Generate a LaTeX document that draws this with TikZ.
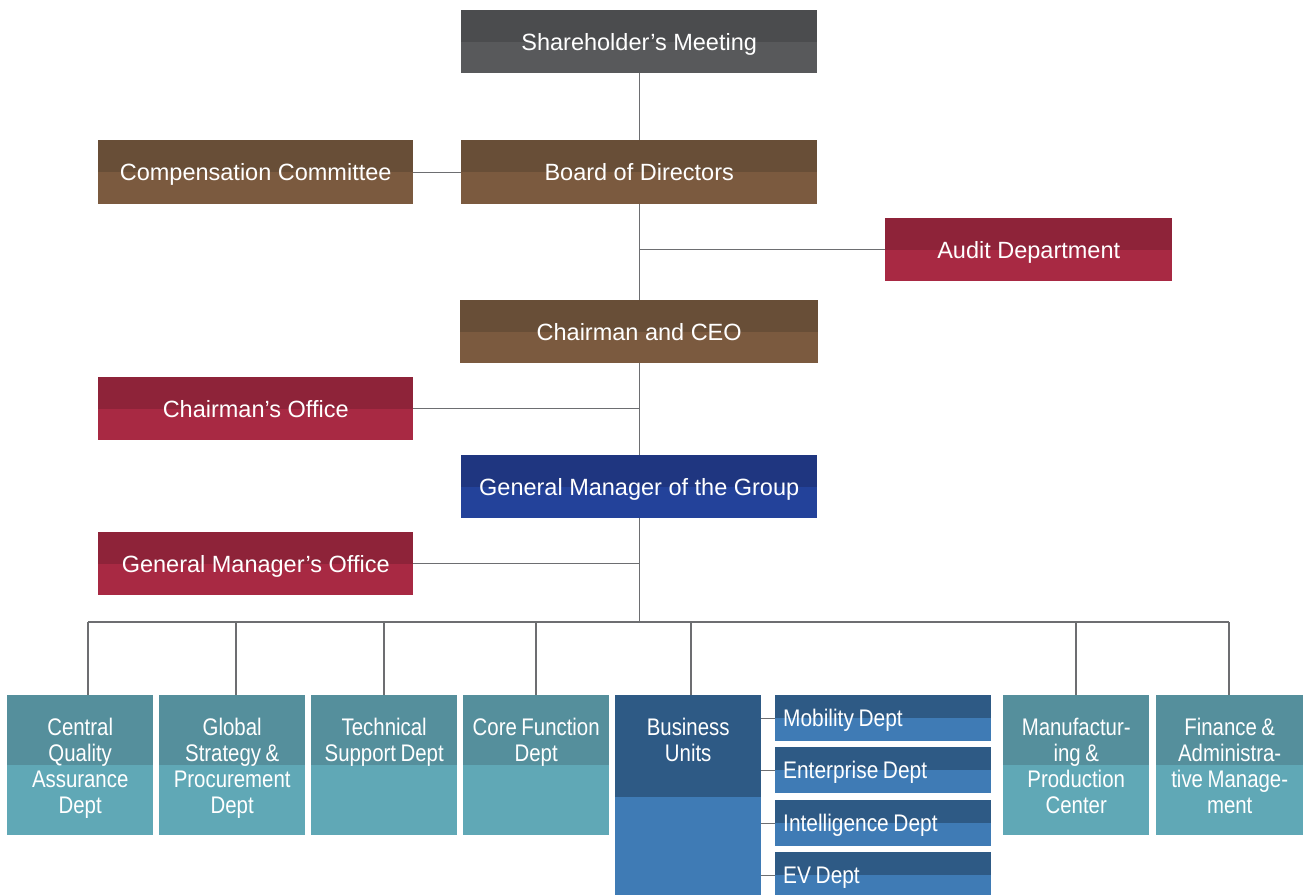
\documentclass[tikz,border=0pt]{standalone}
\usepackage{fontspec}
\setmainfont{Liberation Sans}
\newfontfamily\condfont[FakeStretch=0.85,WordSpace=0.8]{Liberation Sans}
\newfontfamily\subcondfont[FakeStretch=0.87,WordSpace=0.8]{Liberation Sans}
\definecolor{grayT}{HTML}{4B4C4E}\definecolor{grayB}{HTML}{58595B}
\definecolor{brownT}{HTML}{684E37}\definecolor{brownB}{HTML}{7B5A3F}
\definecolor{redT}{HTML}{8E2339}\definecolor{redB}{HTML}{A82943}
\definecolor{navyT}{HTML}{1F3680}\definecolor{navyB}{HTML}{23429A}
\definecolor{tealT}{HTML}{558F9C}\definecolor{tealB}{HTML}{60A8B6}
\definecolor{buT}{HTML}{2E5A85}\definecolor{buB}{HTML}{3F7BB5}
\definecolor{linec}{HTML}{6D6E71}
\begin{document}
\begin{tikzpicture}[x=1pt,y=-1pt,
  twotone/.style 2 args={fill=#2, path picture={\fill[#1] (path picture bounding box.north west) rectangle (path picture bounding box.east);}},
  box/.style={anchor=north west, inner sep=0pt, text=white, draw=none},
  topbox/.style={box, font=\fontsize{23.5}{26}\selectfont, text height=17pt, text depth=0pt},
  lowbox/.style={box, minimum width=146pt, minimum height=140pt},
  lowtext/.style={anchor=north, inner sep=0pt, text=white, align=center, font=\condfont\fontsize{24}{26}\selectfont},
  subbox/.style={box, twotone={buT}{buB}, minimum width=216pt, minimum height=46pt},
  subtext/.style={anchor=west, inner sep=0pt, text=white, font=\subcondfont\fontsize{24}{26}\selectfont, text height=17pt, text depth=0pt},
  conn/.style={draw=linec, line width=1.2pt}
]
\useasboundingbox (0,0) rectangle (1303,894);
\fill[white] (0,0) rectangle (1303,894);

% top part
\node[topbox, twotone={grayT}{grayB}, minimum width=356pt, minimum height=63pt] (sh) at (461,10) {Shareholder’s Meeting};
\node[topbox, twotone={brownT}{brownB}, minimum width=356pt, minimum height=64pt] (bod) at (461,140) {Board of Directors};
\node[topbox, twotone={brownT}{brownB}, minimum width=315pt, minimum height=64pt] (comp) at (98,140) {Compensation Committee};
\node[topbox, twotone={redT}{redB}, minimum width=287pt, minimum height=63pt] (audit) at (885,218) {Audit Department};
\node[topbox, twotone={brownT}{brownB}, minimum width=358pt, minimum height=63pt] (ceo) at (460,300) {Chairman and CEO};
\node[topbox, twotone={redT}{redB}, minimum width=315pt, minimum height=63pt] (co) at (98,377) {Chairman’s Office};
\node[topbox, twotone={navyT}{navyB}, minimum width=356pt, minimum height=63pt] (gm) at (461,455) {General Manager of the Group};
\node[topbox, twotone={redT}{redB}, minimum width=315pt, minimum height=63pt] (gmo) at (98,532) {General Manager’s Office};

% bottom row
\node[lowbox, twotone={tealT}{tealB}] (cqa) at (7,695) {};
\node[lowbox, twotone={tealT}{tealB}] (gsp) at (159,695) {};
\node[lowbox, twotone={tealT}{tealB}] (tsd) at (311,695) {};
\node[lowbox, twotone={tealT}{tealB}] (cfd) at (463,695) {};
\node[lowbox, twotone={buT}{buB}, minimum height=204pt] (bu) at (615,695) {};
\node[lowbox, twotone={tealT}{tealB}] (mfg) at (1003,695) {};
\node[lowbox, twotone={tealT}{tealB}, minimum width=147pt] (fin) at (1156,695) {};

\node[lowtext] (cqa-t) at ([yshift=-22pt]cqa.north) {Central\strut\\Quality\strut\\Assurance\strut\\Dept\strut};
\node[lowtext] (gsp-t) at ([yshift=-22pt]gsp.north) {Global\strut\\Strategy \&\strut\\Procurement\strut\\Dept\strut};
\node[lowtext] (tsd-t) at ([yshift=-22pt]tsd.north) {Technical\strut\\Support Dept\strut};
\node[lowtext] (cfd-t) at ([yshift=-22pt]cfd.north) {Core Function\strut\\Dept\strut};
\node[lowtext] (bu-t) at ([yshift=-22pt]bu.north) {Business\strut\\Units\strut};
\node[lowtext] (mfg-t) at ([yshift=-22pt]mfg.north) {Manufactur-\strut\\ing \&\strut\\Production\strut\\Center\strut};
\node[lowtext] (fin-t) at ([yshift=-22pt]fin.north) {Finance \&\strut\\Administra-\strut\\tive Manage-\strut\\ment\strut};

\node[subbox] (mob) at (775,695) {};
\node[subbox] (ent) at (775,747) {};
\node[subbox] (intel) at (775,800) {};
\node[subbox] (ev) at (775,852) {};
\node[subtext] (mob-t) at ([xshift=8pt]mob.west) {Mobility Dept};
\node[subtext] (ent-t) at ([xshift=8pt]ent.west) {Enterprise Dept};
\node[subtext] (intel-t) at ([xshift=8pt]intel.west) {Intelligence Dept};
\node[subtext] (ev-t) at ([xshift=8pt]ev.west) {EV Dept};

% connectors
\draw[conn] (sh.south) -- (bod.north);
\draw[conn] (bod.south) -- (ceo.north);
\draw[conn] (ceo.south) -- (gm.north);
\draw[conn] (comp.east) -- (bod.west);
\coordinate (ja) at (audit.west -| bod.south);
\draw[conn] (audit.west) -- (ja);
\coordinate (jc) at (co.east -| ceo.south);
\draw[conn] (co.east) -- (jc);
\coordinate (jg) at (gmo.east -| gm.south);
\draw[conn] (gmo.east) -- (jg);

\coordinate (bus) at (gm.south |- 0,622);
\draw[conn] (gm.south) -- (bus);
\coordinate (d1) at (88,622);
\coordinate (d2) at (236,622);
\coordinate (d3) at (384,622);
\coordinate (d4) at (536,622);
\coordinate (d5) at (691,622);
\coordinate (d6) at (1076,622);
\coordinate (d7) at (1229,622);
\draw[conn] (d1) -- (d7);
\draw[conn] (d1) -- (d1 |- cqa.north);
\draw[conn] (d2) -- (d2 |- gsp.north);
\draw[conn] (d3) -- (d3 |- tsd.north);
\draw[conn] (d4) -- (d4 |- cfd.north);
\draw[conn] (d5) -- (d5 |- bu.north);
\draw[conn] (d6) -- (d6 |- mfg.north);
\draw[conn] (d7) -- (d7 |- fin.north);

\draw[conn] (mob.west -| bu.east) -- (mob.west);
\draw[conn] (ent.west -| bu.east) -- (ent.west);
\draw[conn] (intel.west -| bu.east) -- (intel.west);
\draw[conn] (ev.west -| bu.east) -- (ev.west);
\end{tikzpicture}
\end{document}
